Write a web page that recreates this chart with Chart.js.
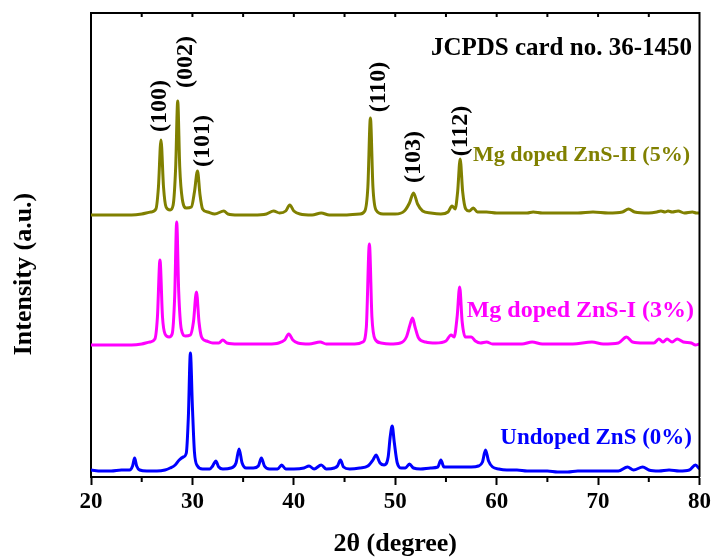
<!DOCTYPE html>
<html>
<head>
<meta charset="utf-8">
<script src="https://cdn.jsdelivr.net/npm/chart.js@4/dist/chart.umd.min.js"></script>
<style>
  html, body { margin: 0; padding: 0; background: #fff; }
  canvas { display: block; }
</style>
</head>
<body>
<canvas id="xrd" width="714" height="560"></canvas>
<script>
// 2θ / intensity (stacked, a.u.)
const undopedX = [20.0, 21.0, 22.0, 23.0, 23.8, 24.1, 24.3, 24.5, 24.8, 25.5, 26.5, 27.3, 27.8, 28.3, 28.7, 29.1, 29.4, 29.6, 29.8, 30.0, 30.2, 30.5, 31.0, 31.7, 32.0, 32.3, 32.6, 33.0, 33.8, 34.3, 34.6, 34.9, 35.3, 36.0, 36.5, 36.8, 37.1, 37.6, 38.4, 38.8, 39.2, 40.0, 41.0, 41.5, 42.0, 42.7, 43.2, 44.0, 44.3, 44.6, 44.9, 45.5, 46.5, 47.3, 47.8, 48.1, 48.5, 48.9, 49.3, 49.5, 49.7, 49.9, 50.2, 50.6, 51.0, 51.4, 51.8, 52.5, 53.5, 54.2, 54.5, 54.8, 55.5, 56.5, 57.5, 58.2, 58.6, 58.9, 59.2, 59.6, 60.2, 61.0, 62.0, 63.0, 64.0, 65.0, 66.0, 67.0, 68.0, 69.0, 70.0, 71.0, 72.0, 72.9, 73.5, 74.4, 75.0, 76.0, 77.0, 78.0, 79.0, 79.6, 80.0];
const undopedY = [7, 6, 6, 7, 7, 11, 19, 11, 7, 6, 6, 7, 9, 12, 17, 20, 24, 60, 124, 70, 25, 11, 8, 8, 11, 16, 10, 8, 9, 14, 28, 14, 9, 9, 11, 19, 11, 8, 8, 12, 8, 8, 9, 11, 8, 12, 8, 9, 11, 17, 10, 8, 9, 11, 17, 22, 14, 12, 20, 40, 51, 35, 14, 9, 9, 13, 9, 8, 9, 10, 17, 10, 10, 10, 10, 11, 15, 27, 16, 10, 8, 7, 7, 6, 6, 6, 5, 5, 6, 6, 6, 6, 6, 10, 7, 10, 7, 6, 7, 6, 7, 12, 8];

const mg3X = [20.0, 21.0, 22.0, 23.0, 24.0, 25.0, 25.8, 26.3, 26.55, 26.8, 27.05, 27.3, 27.7, 28.0, 28.25, 28.45, 28.65, 28.9, 29.3, 29.8, 30.1, 30.4, 30.65, 30.9, 31.4, 32.0, 32.6, 33.0, 33.4, 34.5, 36.0, 37.5, 38.5, 39.1, 39.5, 39.9, 40.4, 41.5, 42.6, 43.2, 44.5, 46.0, 46.8, 47.15, 47.45, 47.7, 48.0, 48.6, 49.5, 50.5, 51.1, 51.45, 51.7, 51.95, 52.3, 53.0, 54.0, 55.0, 55.5, 55.8, 56.1, 56.35, 56.6, 56.9, 57.5, 57.9, 58.4, 59.0, 59.6, 61.0, 62.5, 63.5, 64.5, 66.0, 67.5, 69.4, 70.5, 72.0, 72.8, 73.4, 74.5, 75.5, 76.0, 76.4, 76.8, 77.3, 77.8, 78.4, 79.2, 79.6, 80.0];
const mg3Y = [132, 132, 132, 132, 132, 133, 135, 138, 160, 217, 160, 143, 140, 143, 180, 255, 185, 148, 141, 142, 155, 185, 155, 140, 136, 134, 134, 137, 134, 133, 133, 133, 134, 137, 143, 137, 134, 133, 135, 133, 133, 133, 135, 150, 233, 160, 138, 134, 133, 134, 140, 152, 159, 150, 139, 135, 134, 136, 142, 140, 160, 190, 155, 140, 140, 136, 134, 135, 133, 133, 133, 135, 133, 133, 133, 135, 133, 134, 140, 135, 134, 134, 138, 135, 138, 135, 138, 135, 134, 132, 133];

const mg5X = [20.0, 21.0, 22.0, 23.0, 24.0, 25.0, 25.9, 26.4, 26.65, 26.9, 27.15, 27.4, 27.8, 28.1, 28.35, 28.55, 28.75, 29.0, 29.4, 29.9, 30.2, 30.5, 30.75, 31.0, 31.5, 32.2, 33.1, 33.5, 34.5, 36.0, 37.3, 38.0, 38.6, 39.2, 39.6, 40.0, 40.6, 41.8, 42.7, 43.5, 45.0, 46.5, 47.0, 47.3, 47.55, 47.8, 48.1, 48.8, 50.0, 50.9, 51.4, 51.8, 52.2, 52.7, 53.5, 54.5, 55.2, 55.6, 55.9, 56.15, 56.4, 56.65, 56.95, 57.3, 57.7, 58.1, 59.0, 60.0, 61.5, 63.0, 63.6, 64.5, 66.0, 68.0, 69.5, 71.0, 72.4, 73.0, 73.6, 75.0, 75.8, 76.2, 76.6, 76.9, 77.3, 77.9, 78.5, 79.3, 79.7, 80.0];
const mg5Y = [262, 262, 262, 262, 262, 263, 265, 268, 290, 337, 290, 270, 267, 272, 310, 376, 310, 278, 269, 270, 285, 306, 282, 268, 265, 263, 266, 263, 262, 262, 263, 266, 264, 266, 272, 266, 263, 262, 264, 262, 262, 263, 266, 290, 359, 290, 267, 263, 263, 266, 274, 284, 273, 266, 264, 263, 265, 271, 268, 285, 318, 285, 268, 266, 269, 265, 265, 264, 264, 264, 265, 264, 264, 264, 265, 264, 265, 268, 265, 264, 265, 266, 265, 266, 265, 266, 264, 265, 264, 264];

const seriesNames = ['Undoped ZnS (0%)', 'Mg doped ZnS-I (3%)', 'Mg doped ZnS-II (5%)'];
const seriesColors = ['#0000ff', '#ff00ff', '#808000'];

// (hkl) annotations: text, 2θ and height of label centre
const hklLabels = ['(100)', '(002)', '(101)', '(110)', '(103)', '(112)'];
const hklX = [26.8, 29.35, 31.0, 48.35, 51.8, 56.45];
const hklY = [371, 415, 336, 390, 320, 346];

const SERIF = '"Liberation Serif", "Times New Roman", serif';

function pts(xs, ys) {
  return xs.map((x, i) => ({ x: x, y: ys[i] }));
}

const frameAndText = {
  id: 'frameAndText',
  afterDraw(chart) {
    const { ctx, chartArea: a, scales } = chart;
    const xs = scales.x, ys = scales.y;
    ctx.save();
    ctx.strokeStyle = '#000';
    ctx.lineWidth = 2;
    // top and right frame
    ctx.beginPath();
    ctx.moveTo(a.left - 1, a.top);
    ctx.lineTo(a.right, a.top);
    ctx.lineTo(a.right, a.bottom);
    ctx.stroke();
    // minor ticks at bottom, small inward ticks on top
    ctx.beginPath();
    for (let v = 25; v < 80; v += 10) {
      const px = xs.getPixelForValue(v);
      ctx.moveTo(px, a.bottom);
      ctx.lineTo(px, a.bottom + 5);
    }
    for (let v = 25; v < 80; v += 5) {
      const px = xs.getPixelForValue(v);
      ctx.moveTo(px, a.top);
      ctx.lineTo(px, a.top + 4);
    }
    ctx.stroke();

    // y title
    ctx.fillStyle = '#000';
    ctx.font = 'bold 26px ' + SERIF;
    ctx.textAlign = 'center';
    ctx.textBaseline = 'middle';
    ctx.save();
    ctx.translate(24, 274);
    ctx.rotate(-Math.PI / 2);
    ctx.fillText('Intensity (a.u.)', 0, 0);
    ctx.restore();

    // hkl labels
    ctx.font = 'bold 24px ' + SERIF;
    hklLabels.forEach((t, i) => {
      ctx.save();
      ctx.translate(xs.getPixelForValue(hklX[i]), ys.getPixelForValue(hklY[i]));
      ctx.rotate(-Math.PI / 2);
      ctx.fillText(t, 0, 0);
      ctx.restore();
    });

    // card note + series names
    ctx.textAlign = 'right';
    ctx.textBaseline = 'alphabetic';
    ctx.font = 'bold 25px ' + SERIF;
    ctx.fillText('JCPDS card no. 36-1450', 692, 55);
    ctx.fillStyle = seriesColors[2];
    ctx.font = 'bold 22px ' + SERIF;
    ctx.fillText(seriesNames[2], 690, 161);
    ctx.fillStyle = seriesColors[1];
    ctx.font = 'bold 24px ' + SERIF;
    ctx.fillText(seriesNames[1], 694, 317);
    ctx.fillStyle = seriesColors[0];
    ctx.font = 'bold 23px ' + SERIF;
    ctx.fillText(seriesNames[0], 692, 444);
    ctx.restore();
  }
};

const line = (name, data, color) => ({
  label: name,
  data: data,
  borderColor: color,
  borderWidth: 3,
  pointRadius: 0,
  fill: false,
  cubicInterpolationMode: 'monotone'
});

new Chart(document.getElementById('xrd'), {
  type: 'line',
  data: {
    datasets: [
      line(seriesNames[2], pts(mg5X, mg5Y), seriesColors[2]),
      line(seriesNames[1], pts(mg3X, mg3Y), seriesColors[1]),
      line(seriesNames[0], pts(undopedX, undopedY), seriesColors[0])
    ]
  },
  options: {
    responsive: false,
    animation: false,
    layout: { padding: { top: 13, right: 13, bottom: 0, left: 0 } },
    plugins: { legend: { display: false }, tooltip: { enabled: false } },
    scales: {
      x: {
        type: 'linear',
        min: 20,
        max: 80,
        afterFit: (s) => { s.height = 83; },
        ticks: {
          stepSize: 10,
          padding: 3,
          color: '#000',
          font: { family: SERIF, weight: 'bold', size: 23 }
        },
        grid: {
          drawOnChartArea: false,
          tickLength: 8,
          tickWidth: 2,
          tickColor: '#000'
        },
        border: { display: true, color: '#000', width: 2 },
        title: {
          display: true,
          text: '2θ (degree)',
          color: '#000',
          font: { family: SERIF, weight: 'bold', size: 26 },
          padding: { top: 0, bottom: 0 }
        }
      },
      y: {
        min: 0,
        max: 464,
        afterFit: (s) => { s.width = 91; },
        ticks: { display: false },
        grid: { display: false },
        border: { display: true, color: '#000', width: 2 }
      }
    }
  },
  plugins: [frameAndText]
});
</script>
</body>
</html>
